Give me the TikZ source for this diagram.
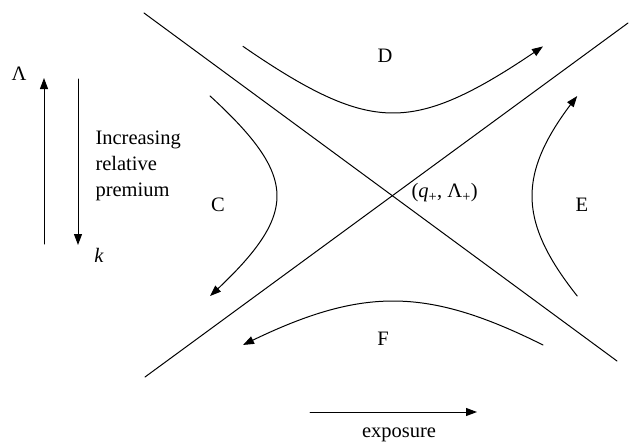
\documentclass[tikz,border=0pt]{standalone}
\usepackage{fontspec}
\setmainfont{Liberation Serif}
\usetikzlibrary{arrows.meta}

\begin{document}
\begin{tikzpicture}[x=1pt, y=-1pt, >={Triangle[length=11pt,width=8pt]},
    line cap=round, line join=round, line width=1pt,
    every node/.style={font=\fontsize{20.5}{26}\selectfont, inner sep=0pt}]

    \useasboundingbox (0,0) rectangle (629,442);

    % ── Asymptotes, crossing at (q+, Λ+) ──────────────────────────────────────
    \coordinate (cross) at (393,196);
    \coordinate (dnA) at (144,13);
    \coordinate (dnB) at (617,361);
    \coordinate (upA) at (145,377);
    \coordinate (upB) at (628,23);
    \draw (dnA) -- (dnB);
    \draw (upA) -- (upB);

    \node[anchor=west] (eqpt) at (411,193)
        {(\textit{q}\textsubscript{+}, Λ\textsubscript{+})};

    % ── Flow lines (hyperbolae round the crossing) ────────────────────────────
    % D: above, left to right
    \draw[->] plot[domain=-1.195:1.195, samples=50, smooth]
        ({393+100*sinh(\x)}, {196-83*cosh(\x)});
    % E: right, bottom to top
    \draw[->] plot[domain=-0.786:0.786, samples=50, smooth]
        ({393+139*cosh(\x)}, {196-115*sinh(\x)});
    % C: left, top to bottom
    \draw[->] plot[domain=-1.029:1.029, samples=50, smooth]
        ({393-116*cosh(\x)}, {196+82*sinh(\x)});
    % F: below, right to left
    \draw[->] plot[domain=-0.886:0.886, samples=50, smooth]
        ({393-149*sinh(\x)}, {196+105*cosh(\x)});

    % Region labels
    \node (lblD) at (385,56) {D};
    \node (lblC) at (218,205) {C};
    \node (lblE) at (582,205) {E};
    \node (lblF) at (383,339) {F};

    % ── Legend on the left ───────────────────────────────────────────────────
    \coordinate (lamFoot) at (44,244);
    \coordinate (lamTip) at (44,78);
    \draw[->] (lamFoot) -- (lamTip);
    \node (lam) at (19,74) {Λ};

    \coordinate (kTop) at (78,79);
    \coordinate (kTip) at (78,245);
    \draw[->] (kTop) -- (kTip);
    \node (kay) at (99,255) {\textit{k}};

    \node[anchor=north west, align=left] (premium) at (95,130)
        {Increasing\\relative\\premium};

    % ── Exposure axis ────────────────────────────────────────────────────────
    \coordinate (expFrom) at (310,412);
    \coordinate (expTo) at (477,412);
    \draw[->] (expFrom) -- (expTo);
    \node[anchor=base] (expo) at (399,437) {exposure};

\end{tikzpicture}
\end{document}
